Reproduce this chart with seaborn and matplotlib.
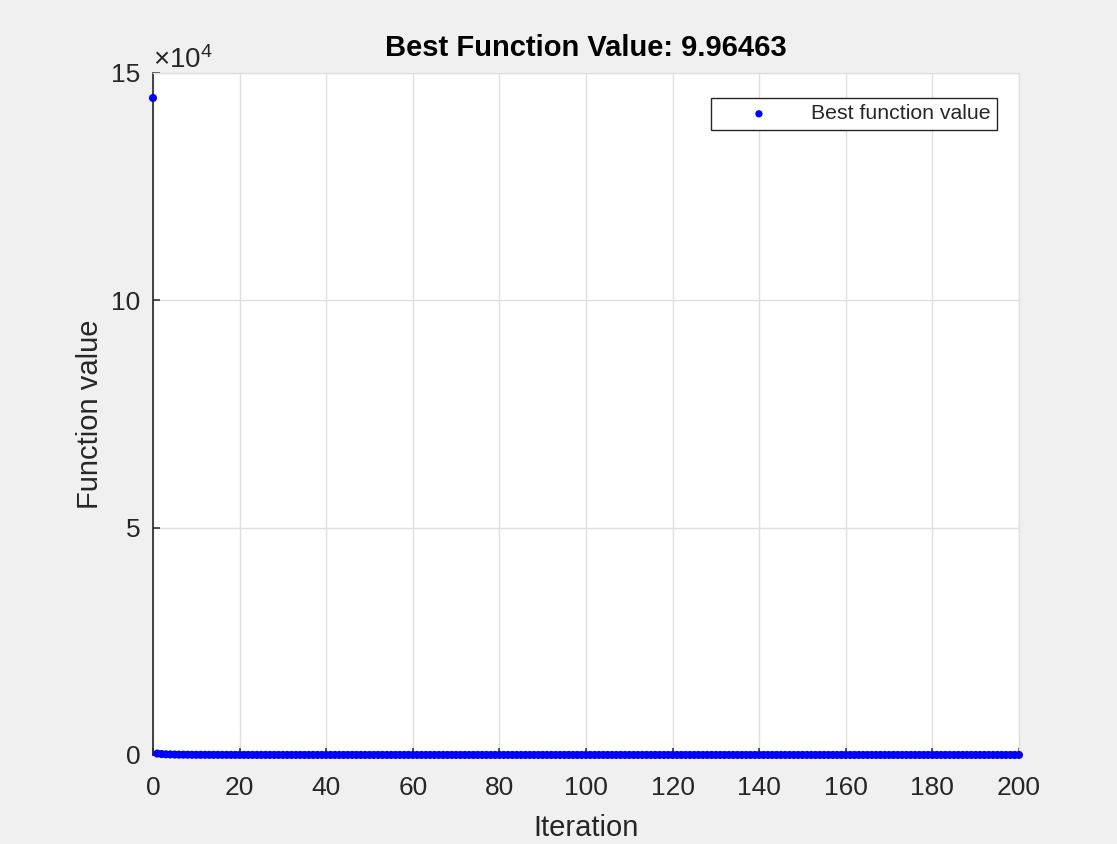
import numpy as np
import pandas as pd
import matplotlib
matplotlib.use("Agg")
import matplotlib.pyplot as plt
import seaborn as sns

# best function value per iteration (iteration 0 .. 200)
best_values = [
    144512.0,
    318.6, 212.4, 151.9, 123.7, 102.5, 84.3, 71.8, 60.2, 52.6, 46.9,
    41.3, 37.8, 34.1, 31.6, 29.2, 27.5, 25.9, 24.3, 23.1, 22.0,
    21.2, 20.4, 19.7, 19.1, 18.6, 18.1, 17.7, 17.3, 16.9, 16.6,
    16.3, 16.0, 15.8, 15.5, 15.3, 15.1, 14.9, 14.7, 14.5, 14.3,
    14.2, 14.0, 13.9, 13.7, 13.6, 13.5, 13.3, 13.2, 13.1, 13.0,
    12.9, 12.8, 12.7, 12.6, 12.5, 12.4, 12.3, 12.3, 12.2, 12.1,
    12.0, 12.0, 11.9, 11.8, 11.8, 11.7, 11.6, 11.6, 11.5, 11.5,
    11.4, 11.4, 11.3, 11.3, 11.2, 11.2, 11.1, 11.1, 11.0, 11.0,
    10.95, 10.91, 10.87, 10.84, 10.80, 10.77, 10.74, 10.71, 10.68, 10.65,
    10.62, 10.60, 10.57, 10.55, 10.53, 10.51, 10.49, 10.47, 10.45, 10.43,
    10.41, 10.40, 10.38, 10.37, 10.35, 10.34, 10.33, 10.31, 10.30, 10.29,
    10.28, 10.27, 10.26, 10.25, 10.24, 10.23, 10.22, 10.21, 10.20, 10.19,
    10.18, 10.18, 10.17, 10.16, 10.15, 10.15, 10.14, 10.13, 10.13, 10.12,
    10.11, 10.11, 10.10, 10.10, 10.09, 10.09, 10.08, 10.08, 10.07, 10.07,
    10.06, 10.06, 10.05, 10.05, 10.05, 10.04, 10.04, 10.03, 10.03, 10.03,
    10.02, 10.02, 10.02, 10.01, 10.01, 10.01, 10.00, 10.00, 10.00, 9.995,
    9.993, 9.991, 9.990, 9.988, 9.987, 9.985, 9.984, 9.983, 9.982, 9.981,
    9.980, 9.979, 9.978, 9.977, 9.976, 9.975, 9.975, 9.974, 9.973, 9.973,
    9.972, 9.971, 9.971, 9.970, 9.970, 9.969, 9.969, 9.968, 9.968, 9.968,
    9.967, 9.967, 9.966, 9.966, 9.966, 9.965, 9.965, 9.965, 9.9647, 9.96463,
]
iterations = list(range(len(best_values)))
x_ticks = [0, 20, 40, 60, 80, 100, 120, 140, 160, 180, 200]
y_ticks = [0, 50000, 100000, 150000]
y_tick_labels = ["0", "5", "10", "15"]

sns.set_theme(style="white")
plt.rcParams['font.family'] = ['Liberation Sans', 'DejaVu Sans']
plt.rcParams['mathtext.fontset'] = 'custom'
plt.rcParams['mathtext.rm'] = 'Liberation Sans'
plt.rcParams['mathtext.it'] = 'Liberation Sans:italic'

txt = '#262626'
df = pd.DataFrame({'Iteration': iterations, 'value': best_values})

fig = plt.figure(figsize=(11.17, 8.44), dpi=100, facecolor='#f0f0f0')
ax = fig.add_axes([153 / 1117, 1 - 755 / 844, (1019 - 153) / 1117, (755 - 73) / 844])
ax.set_facecolor('white')

sns.scatterplot(data=df, x='Iteration', y='value', ax=ax, color='#0000ff',
                s=34, edgecolor='none', linewidth=0, label='Best function value',
                clip_on=False, zorder=3)

ax.set_xlim(0, 200)
ax.set_ylim(0, 150000)
ax.set_xticks(x_ticks)
ax.set_yticks(y_ticks)
ax.set_yticklabels(y_tick_labels)
ax.grid(True, color='#dfdfdf', linewidth=1)
ax.set_axisbelow(True)

for side in ['left', 'bottom']:
    ax.spines[side].set_color(txt)
    ax.spines[side].set_linewidth(1.2)
for side in ['top', 'right']:
    ax.spines[side].set_color('#dfdfdf')
    ax.spines[side].set_linewidth(1.0)

ax.tick_params(axis='both', direction='in', length=5, width=1.1, colors=txt,
               labelsize=19, left=True, bottom=True)
ax.tick_params(axis='y', pad=9)
ax.tick_params(axis='x', pad=15)

ax.set_xlabel('Iteration', fontsize=21, color=txt, labelpad=10)
ax.set_ylabel('Function value', fontsize=21, color=txt, labelpad=5)
ax.set_title('Best Function Value: %g' % best_values[-1], fontsize=21,
             fontweight='bold', color='#000000', pad=12)
ax.text(0.0, 0.998, r'$\times10^{4}$', transform=ax.transAxes, fontsize=20,
        color=txt, ha='left', va='bottom')

leg = ax.legend(loc='upper right', bbox_to_anchor=((997 - 153) / 866, (755 - 98) / 682),
                borderaxespad=0, fontsize=15.3, frameon=True, fancybox=False,
                handlelength=3.9, handletextpad=0.5, borderpad=0.3,
                markerscale=0.9)
leg.get_frame().set_edgecolor(txt)
leg.get_frame().set_linewidth(1.0)
leg.get_frame().set_alpha(1)
for t in leg.get_texts():
    t.set_color(txt)

fig.savefig('out.png', dpi=100, facecolor=fig.get_facecolor())
